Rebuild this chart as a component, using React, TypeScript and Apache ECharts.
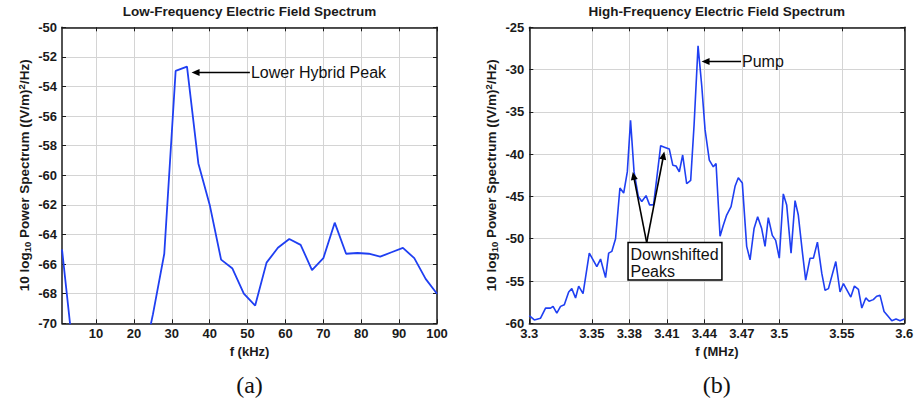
import React, { useEffect, useRef } from "react";
import * as echarts from "echarts";

// ---------- Data ----------
const lfFreq = [1, 4, 7, 10, 13, 16, 19, 22, 25, 28, 31, 34, 37, 40, 43, 46, 49, 52, 55, 58, 61, 64, 67, 70, 73, 76, 79, 82, 85, 88, 91, 94, 97, 100];
const lfPower = [-65.0, -72.1, -75, -77, -77, -76, -75, -73, -69.4, -65.3, -52.95, -52.66, -59.2, -62.0, -65.7, -66.3, -68.0, -68.8, -65.9, -64.9, -64.3, -64.7, -66.4, -65.6, -63.2, -65.3, -65.25, -65.3, -65.5, -65.2, -64.9, -65.6, -67.0, -68.0];
const lfTicks = [10, 20, 30, 40, 50, 60, 70, 80, 90, 100];

const hfFreq = [
  3.3, 3.304, 3.309, 3.313, 3.317, 3.319, 3.322, 3.325, 3.328, 3.3315, 3.334, 3.337, 3.3395, 3.343, 3.348,
  3.354, 3.357, 3.361, 3.3635, 3.366, 3.369, 3.3725, 3.3755, 3.3784, 3.381, 3.3838, 3.3872, 3.39, 3.3934,
  3.3962, 3.3994, 3.4051, 3.4086, 3.412, 3.4148, 3.4174, 3.42, 3.4227, 3.4259, 3.4291, 3.4318, 3.435,
  3.438, 3.4406, 3.444, 3.4472, 3.4494, 3.4526, 3.4552, 3.4579, 3.4614, 3.4646, 3.4672, 3.4704, 3.4739,
  3.4766, 3.4798, 3.4827, 3.4859, 3.4886, 3.4912, 3.4944, 3.4971, 3.5, 3.5032, 3.5059, 3.5094, 3.5126,
  3.5152, 3.5184, 3.5211, 3.5246, 3.5273, 3.5305, 3.534, 3.5366, 3.5393, 3.5452, 3.5486, 3.5513, 3.5572,
  3.5601, 3.5633, 3.566, 3.5692, 3.5718, 3.5752, 3.5779, 3.5806, 3.5838, 3.5872, 3.59, 3.5934, 3.5966, 3.6,
];
const hfPower = [
  -59.1, -59.6, -59.4, -58.2, -58.2, -58.0, -58.8, -58.0, -57.8, -56.3, -55.9, -57.0, -55.6, -56.5, -51.7,
  -53.3, -52.4, -54.6, -51.7, -51.5, -50.0, -44.0, -44.6, -42.1, -36.0, -42.1, -45.0, -45.6, -44.9,
  -46.0, -46.0, -39.0, -39.2, -39.4, -41.3, -41.4, -42.1, -40.1, -43.5, -43.1, -36.6, -27.2,
  -32.0, -37.1, -40.7, -41.5, -41.1, -49.7, -48.4, -47.2, -46.2, -43.8, -42.8, -43.4, -50.9,
  -52.5, -48.8, -47.4, -48.8, -50.9, -47.5, -49.6, -50.2, -52.3, -44.7, -46.0, -51.7, -45.5,
  -47.2, -51.5, -54.9, -52.3, -52.3, -50.4, -54.1, -56.1, -55.9, -52.7, -56.3, -55.3, -56.9,
  -55.6, -56.0, -58.2, -57.0, -57.4, -57.2, -56.8, -56.7, -58.6, -59.2, -59.7, -59.5, -59.7, -59.5,
];
const hfTicks = [3.3, 3.35, 3.38, 3.41, 3.44, 3.47, 3.5, 3.55, 3.6];

const titles = ["Low-Frequency Electric Field Spectrum", "High-Frequency Electric Field Spectrum"];
const xNames = ["f (kHz)", "f (MHz)"];
const panelLabels = ["(a)", "(b)"];

// annotations (data units)
const lhTail = [50.6, -53.05];
const lhHead = [35.2, -53.05];
const lhText = "Lower Hybrid Peak";
const pumpTail = [3.4694, -29.05];
const pumpHead = [3.4378, -29.05];
const pumpText = "Pump";
const dsTail = [3.3939, -50.45];
const dsHeads = [[3.3828, -42.1], [3.408, -39.7]];
const dsBoxCorners = [[3.379, -50.45], [3.4541, -54.88]];
const dsLines = ["Downshifted", "Peaks"];

// ---------- Styling ----------
const FONT = '"Liberation Sans", Arial, Helvetica, sans-serif';
const INK = "#1a1a1a";
const BLUE = "#1f3ff2";
const GRIDS = [
  { left: 62, top: 27.3, width: 375, height: 296 },
  { left: 529.3, top: 27.3, width: 375, height: 296 },
];

const axisLine = { show: true, onZero: false, lineStyle: { color: INK, width: 1.5 } };
const tick = (values?: number[]) => ({
  show: true,
  inside: true,
  length: 4,
  lineStyle: { color: INK, width: 1 },
  ...(values ? { customValues: values } : {}),
});
const labelStyle = { fontFamily: FONT, fontSize: 13, fontWeight: "bold", color: INK };
const gridLine = { show: true, lineStyle: { color: "#d4d4d4", width: 1, type: "solid" } };
const yName = "{n|10 log}{s|10}{n| Power Spectrum ((V/m)}{p|2}{n|/Hz)}";
const nameRich = {
  n: { fontFamily: FONT, fontSize: 13.5, fontWeight: "bold", color: INK, lineHeight: 16 },
  s: { fontFamily: FONT, fontSize: 9.5, fontWeight: "bold", color: INK, lineHeight: 10, verticalAlign: "bottom" },
  p: { fontFamily: FONT, fontSize: 9.5, fontWeight: "bold", color: INK, lineHeight: 10, verticalAlign: "top" },
};
const fmtNum = (v: number) => String(parseFloat(v.toFixed(3)));

function buildOption() {
  const ranges = [
    { xmin: 1, xmax: 100, xt: lfTicks, ymin: -70, ymax: -50, yi: 2 },
    { xmin: 3.3, xmax: 3.6, xt: hfTicks, ymin: -60, ymax: -25, yi: 5 },
  ];
  const xAxis: any[] = [];
  const yAxis: any[] = [];
  ranges.forEach((r, g) => {
    xAxis.push({
      type: "value", gridIndex: g, position: "bottom", min: r.xmin, max: r.xmax,
      axisLine, axisTick: tick(r.xt),
      axisLabel: { ...labelStyle, margin: 4, customValues: r.xt, formatter: (v: number) => fmtNum(v) },
      splitLine: gridLine,
      name: xNames[g], nameLocation: "middle", nameGap: 21,
      nameTextStyle: { ...labelStyle, fontSize: 13 },
    });
    yAxis.push({
      type: "value", gridIndex: g, position: "left", min: r.ymin, max: r.ymax, interval: r.yi,
      axisLine, axisTick: tick(),
      axisLabel: { ...labelStyle, margin: 5, formatter: (v: number) => fmtNum(v) },
      splitLine: gridLine,
      name: yName, nameLocation: "middle", nameGap: 30, nameRotate: 90,
      nameTextStyle: { fontFamily: FONT, fontSize: 13.5, fontWeight: "bold", color: INK, rich: nameRich },
    });
  });
  // box axes (top/right)
  ranges.forEach((r, g) => {
    xAxis.push({
      type: "value", gridIndex: g, position: "top", min: r.xmin, max: r.xmax,
      axisLine, axisTick: tick(r.xt), axisLabel: { show: false, customValues: r.xt }, splitLine: { show: false },
    });
    yAxis.push({
      type: "value", gridIndex: g, position: "right", min: r.ymin, max: r.ymax, interval: r.yi,
      axisLine, axisTick: tick(), axisLabel: { show: false }, splitLine: { show: false },
    });
  });

  return {
    animation: false,
    backgroundColor: "#ffffff",
    title: titles.map((t, g) => ({
      text: t,
      left: GRIDS[g].left + GRIDS[g].width / 2,
      top: 4,
      padding: 0,
      textAlign: "center",
      textStyle: { fontFamily: FONT, fontSize: 13.5, fontWeight: "bold", color: INK },
    })),
    grid: GRIDS.map((gr) => ({ ...gr, containLabel: false, outerBoundsMode: "none" })),
    xAxis,
    yAxis,
    series: [
      {
        type: "line", xAxisIndex: 0, yAxisIndex: 0,
        data: lfFreq.map((f, i) => [f, lfPower[i]]),
        showSymbol: false, symbol: "none", clip: true, silent: true,
        lineStyle: { color: BLUE, width: 1.8 },
      },
      {
        type: "line", xAxisIndex: 1, yAxisIndex: 1,
        data: hfFreq.map((f, i) => [f, hfPower[i]]),
        showSymbol: false, symbol: "none", clip: true, silent: true,
        lineStyle: { color: BLUE, width: 1.6 },
      },
    ],
  };
}

function arrow(a: number[], b: number[]) {
  const dx = b[0] - a[0];
  const dy = b[1] - a[1];
  const len = Math.hypot(dx, dy) || 1;
  const ux = dx / len, uy = dy / len;
  const L = 8, W = 3.5;
  const bx = b[0] - ux * L, by = b[1] - uy * L;
  return [
    { type: "line", z: 100, shape: { x1: a[0], y1: a[1], x2: bx + ux * 2, y2: by + uy * 2 }, style: { stroke: "#000", lineWidth: 1.6 } },
    { type: "polygon", z: 100, shape: { points: [[b[0], b[1]], [bx - uy * W, by + ux * W], [bx + uy * W, by - ux * W]] }, style: { fill: "#000" } },
  ];
}

function txt(x: number, y: number, text: string, font: string, align = "left") {
  return {
    type: "text", z: 101, x, y,
    style: { text, font, fill: "#111", align, textAlign: align, verticalAlign: "middle", textVerticalAlign: "middle" },
  };
}

export default function App() {
  const ref = useRef<HTMLDivElement>(null);
  useEffect(() => {
    if (!ref.current) return;
    const chart = echarts.init(ref.current, undefined, { renderer: "svg" });
    chart.setOption(buildOption() as any);
    const px = (g: number, p: number[]) => chart.convertToPixel({ gridIndex: g } as any, p) as number[];
    const annFont = `16px ${FONT}`;
    const els: any[] = [];
    // Lower hybrid
    const lt = px(0, lhTail), lh = px(0, lhHead);
    els.push(...arrow(lt, lh), txt(lt[0] + 1, lt[1], lhText, annFont));
    // Pump
    const pt = px(1, pumpTail), ph = px(1, pumpHead);
    els.push(...arrow(pt, ph), txt(pt[0] + 1, pt[1], pumpText, annFont));
    // Downshifted
    const dt = px(1, dsTail);
    dsHeads.forEach((h) => els.push(...arrow(dt, px(1, h))));
    const c0 = px(1, dsBoxCorners[0]), c1 = px(1, dsBoxCorners[1]);
    els.push({
      type: "rect", z: 99,
      shape: { x: c0[0], y: c0[1], width: c1[0] - c0[0], height: c1[1] - c0[1] },
      style: { fill: "#fff", stroke: "#000", lineWidth: 1.5 },
    });
    dsLines.forEach((l, i) => els.push(txt(c0[0] + 2.5, c0[1] + 11.5 + i * 17.5, l, annFont)));
    // panel labels
    panelLabels.forEach((l, g) =>
      els.push(txt(GRIDS[g].left + GRIDS[g].width / 2, 385, l, '24px "Liberation Serif", "Times New Roman", serif', "center"))
    );
    chart.setOption({ graphic: { elements: els } } as any);
    return () => chart.dispose();
  }, []);
  return <div ref={ref} style={{ position: "absolute", left: 0, top: 0, width: 922, height: 400 }} />;
}
